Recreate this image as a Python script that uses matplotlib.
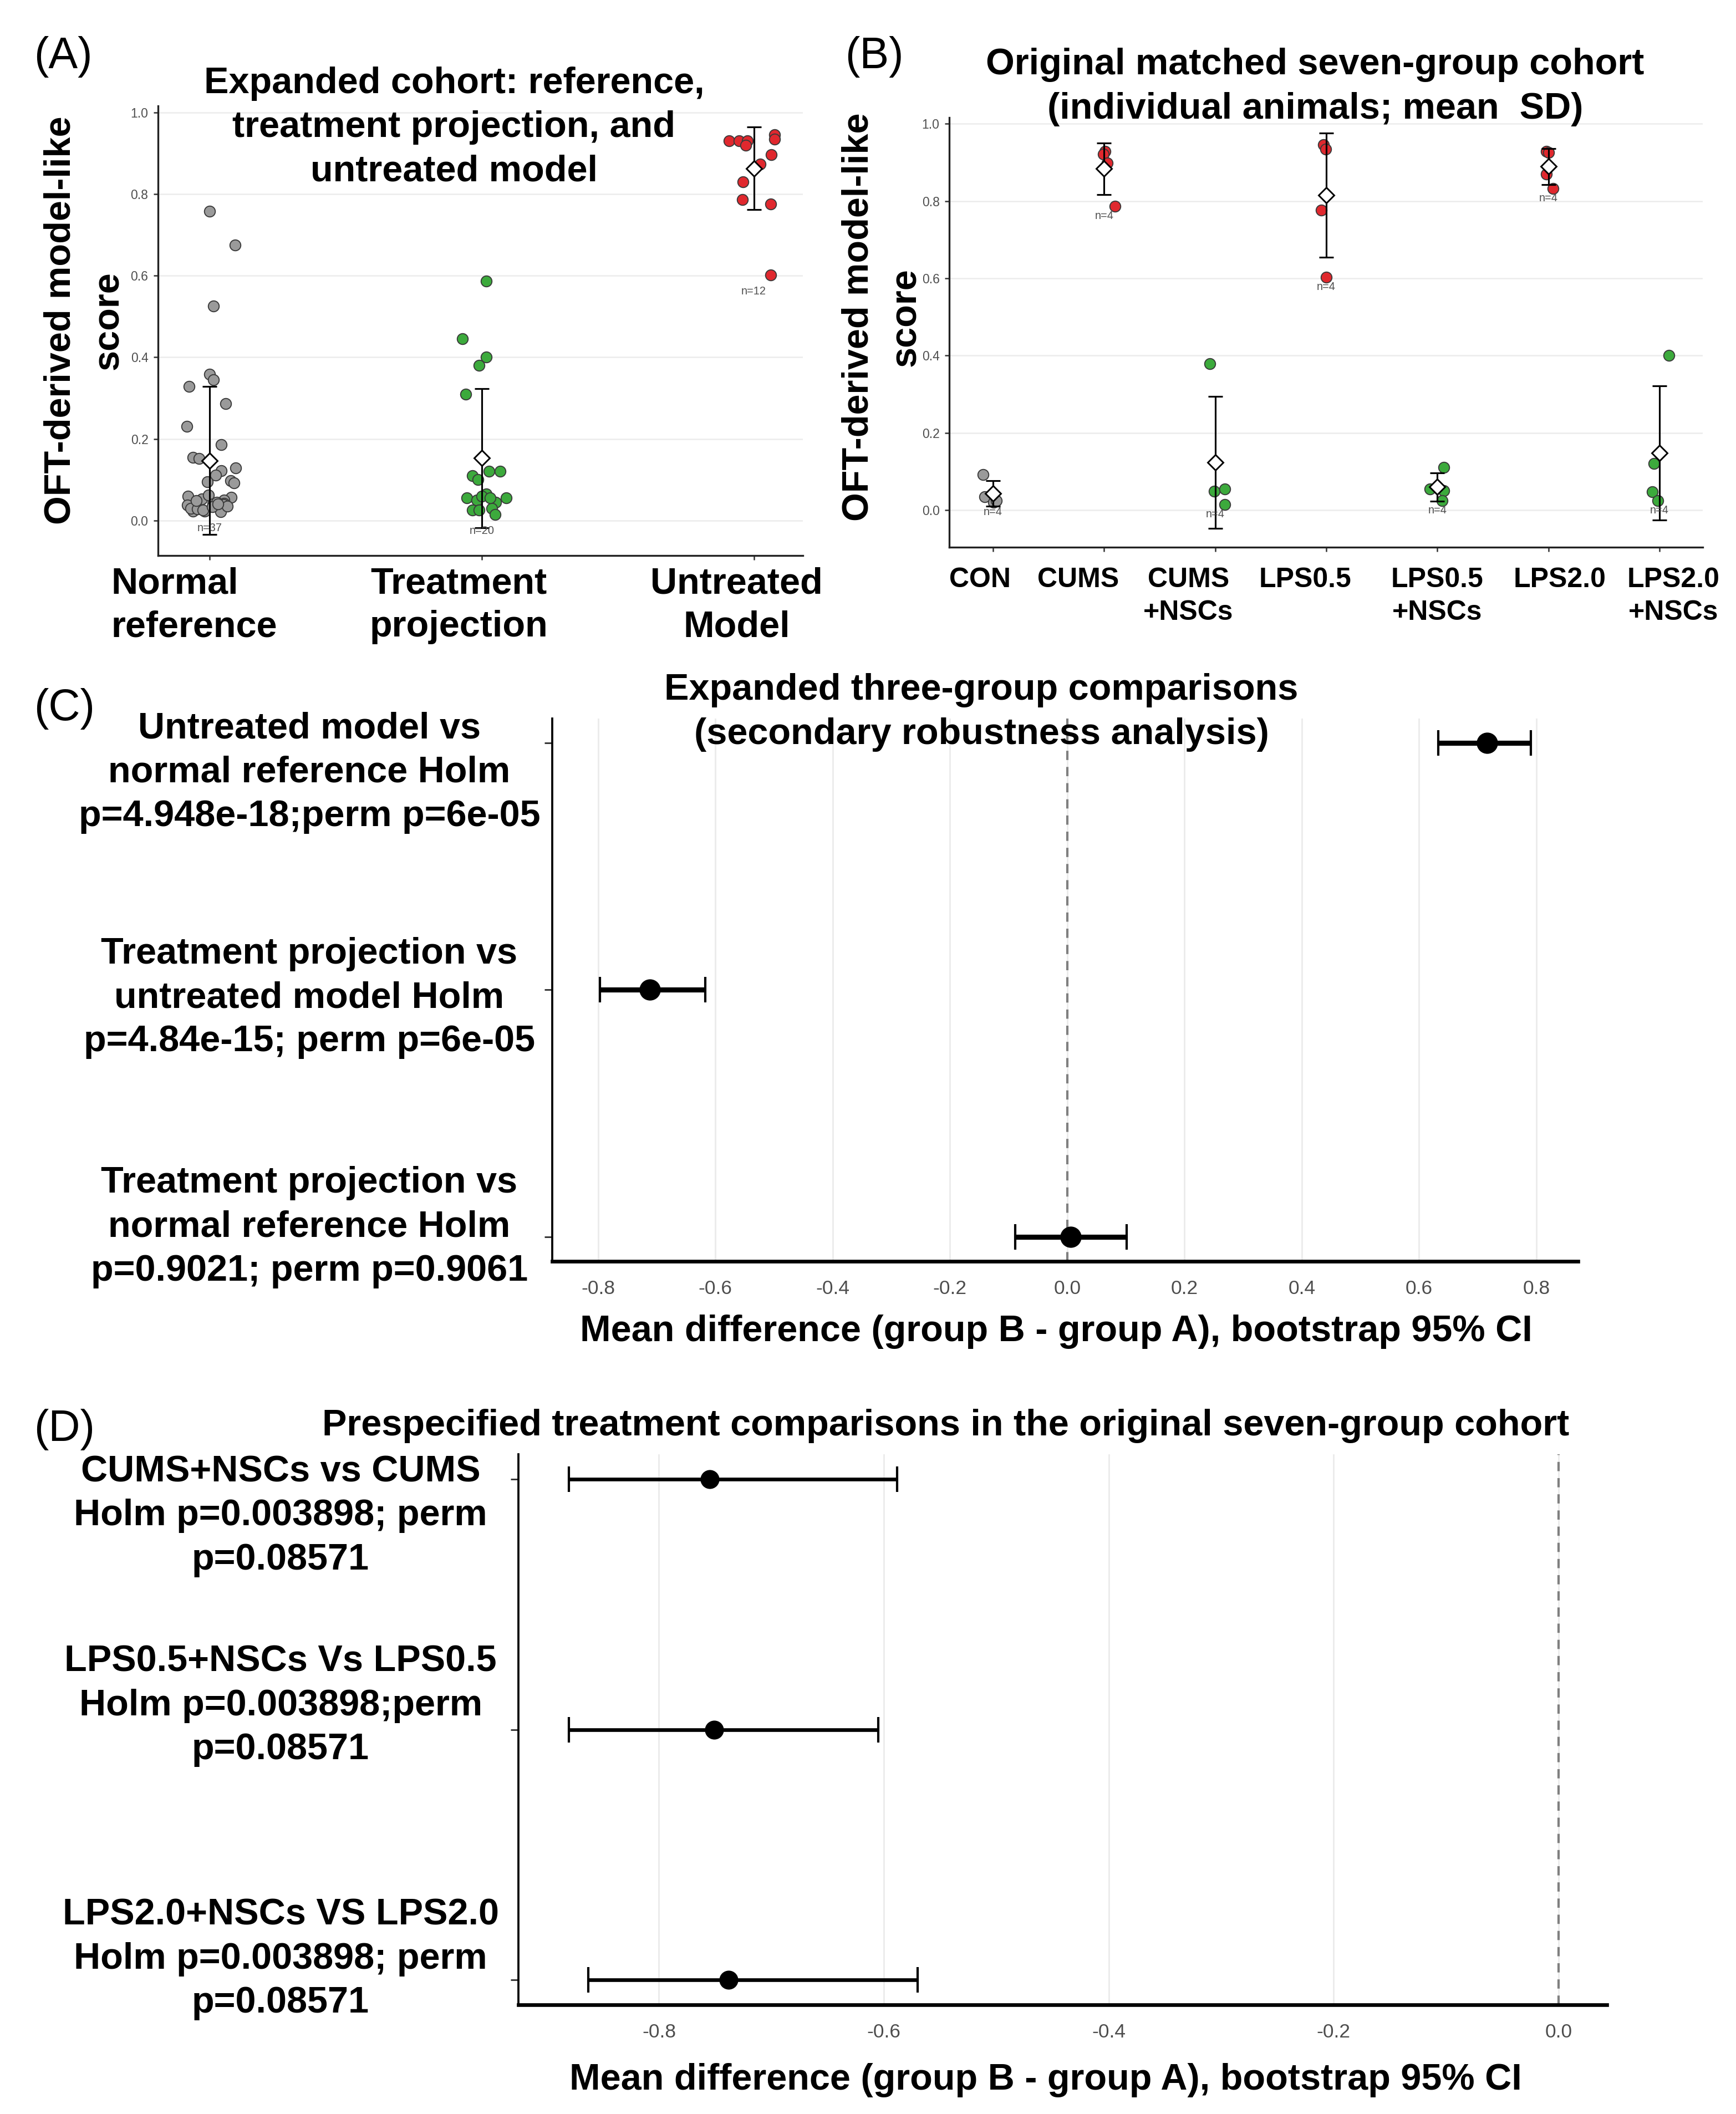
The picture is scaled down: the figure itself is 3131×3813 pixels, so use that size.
import numpy as np
import matplotlib
matplotlib.use("Agg")
import matplotlib.pyplot as plt

plt.rcParams['font.family'] = ['Liberation Sans', 'DejaVu Sans']

# ---- panel A : expanded cohort (individual scores + jitter offsets)
a_groups = ["Normal\nreference", "Treatment\nprojection", "Untreated\nModel"]
normal_scores = [0.758, 0.675, 0.526, 0.359, 0.345, 0.329, 0.286, 0.231, 0.186, 0.154,
                 0.152, 0.129, 0.122, 0.111, 0.095, 0.098, 0.092, 0.059, 0.052, 0.062,
                 0.057, 0.050, 0.042, 0.040, 0.037, 0.039, 0.023, 0.023, 0.021, 0.030,
                 0.028, 0.045, 0.035, 0.025, 0.033, 0.048, 0.041]
normal_jitter = [0.0, 0.093, 0.014, 0.0, 0.014, -0.076, 0.058, -0.084, 0.042, -0.061,
                 -0.04, 0.096, 0.042, 0.022, -0.009, 0.077, 0.09, -0.08, -0.03, -0.005,
                 0.08, 0.053, 0.053, 0.012, -0.082, 0.05, -0.062, -0.018, 0.04, -0.07,
                 -0.045, 0.025, 0.065, -0.025, 0.01, -0.05, 0.03]
treat_scores = [0.587, 0.445, 0.400, 0.380, 0.310, 0.120, 0.120, 0.110, 0.100, 0.065,
                0.055, 0.055, 0.050, 0.060, 0.045, 0.025, 0.025, 0.030, 0.015, 0.055]
treat_jitter = [0.016, -0.071, 0.016, -0.01, -0.06, 0.026, 0.067, -0.034, -0.014, 0.016,
                -0.055, 0.09, -0.018, 0.0, 0.052, -0.034, -0.01, 0.036, 0.05, 0.03]
untreated_scores = [0.930, 0.930, 0.930, 0.920, 0.945, 0.935, 0.897, 0.873, 0.830,
                    0.787, 0.776, 0.602]
untreated_jitter = [-0.092, -0.055, -0.024, -0.03, 0.077, 0.077, 0.063, 0.024, -0.04,
                    -0.042, 0.061, 0.061]

# ---- panel B : original seven-group cohort
b_groups = ["CON", "CUMS", "CUMS\n+NSCs", "LPS0.5", "LPS0.5\n+NSCs", "LPS2.0", "LPS2.0\n+NSCs"]
con = [0.092, 0.035, 0.020, 0.025]
cums = [0.929, 0.922, 0.898, 0.786]
cums_nsc = [0.379, 0.049, 0.054, 0.014]
lps05 = [0.946, 0.934, 0.776, 0.603]
lps05_nsc = [0.111, 0.054, 0.050, 0.024]
lps20 = [0.929, 0.926, 0.870, 0.832]
lps20_nsc = [0.400, 0.121, 0.047, 0.024]
con_j = [-0.088, -0.073, 0.005, 0.03]
cums_j = [0.01, -0.005, 0.03, 0.1]
cums_nsc_j = [-0.047, -0.01, 0.088, 0.088]
lps05_j = [-0.026, -0.005, -0.042, 0.0]
lps05_nsc_j = [0.057, -0.068, 0.057, 0.042]
lps20_j = [-0.02, 0.0, -0.02, 0.044]
lps20_nsc_j = [0.083, -0.047, -0.062, -0.016]

# ---- panel C : expanded three-group comparisons (top row first)
c_labels = ["Untreated model vs\nnormal reference Holm\np=4.948e-18;perm p=6e-05",
            "Treatment projection vs\nuntreated model Holm\np=4.84e-15; perm p=6e-05",
            "Treatment projection vs\nnormal reference Holm\np=0.9021; perm p=0.9061"]
c_diff = [0.716, -0.712, 0.006]
c_lo = [0.633, -0.797, -0.089]
c_hi = [0.791, -0.617, 0.101]

# ---- panel D : prespecified treatment comparisons (top row first)
d_labels = ["CUMS+NSCs vs CUMS\nHolm p=0.003898; perm\np=0.08571",
            "LPS0.5+NSCs Vs LPS0.5\nHolm p=0.003898;perm\np=0.08571",
            "LPS2.0+NSCs VS LPS2.0\nHolm p=0.003898; perm\np=0.08571"]
d_diff = [-0.755, -0.751, -0.738]
d_lo = [-0.880, -0.880, -0.863]
d_hi = [-0.588, -0.605, -0.570]

GRAY, RED, GREEN = "#9a9a9a", "#e0282e", "#3caa3c"
TICKGRAY = "#4d4d4d"
XLAB = "Mean difference (group B - group A), bootstrap 95% CI"

W, H, DPI = 3131, 3813, 300
fig = plt.figure(figsize=(W / DPI, H / DPI), dpi=DPI)
fig.patch.set_facecolor("white")


def box(l, t, r, b):
    return [l / W, 1 - b / H, (r - l) / W, (b - t) / H]


def strip_panel(ax, groups, jitters, colors, labels, label_dx, label_top, lab_size,
                lab_ls, xlim, n_off, label_align=None):
    if label_align is None:
        label_align = ["center"] * len(groups)
    for i, (vals, jit, col) in enumerate(zip(groups, jitters, colors)):
        vals = np.array(vals)
        ax.scatter(i + np.array(jit), vals, s=22, c=col, edgecolors="#3a3a3a",
                   linewidths=0.45, zorder=3)
        m, sd = vals.mean(), vals.std(ddof=1)
        ax.errorbar(i, m, yerr=sd, fmt="none", ecolor="black", elinewidth=0.75,
                    capsize=3.2, capthick=0.75, zorder=4)
        ax.plot(i, m, marker="D", ms=4.6, mfc="white", mec="black", mew=0.7, zorder=5)
        ax.text(i, vals.min() - n_off, f"n={len(vals)}", fontsize=4.8, color=TICKGRAY,
                ha="center", va="center", zorder=6)
        ax.text(i + label_dx[i], label_top, labels[i], transform=ax.get_xaxis_transform(),
                ha="center", va="top", fontsize=lab_size, fontweight="bold",
                linespacing=lab_ls, multialignment=label_align[i])
    ax.set_xlim(*xlim)
    ax.set_ylim(-0.09, 1.016)
    ax.set_xticks(range(len(groups)))
    ax.set_xticklabels([])
    yt = np.arange(0, 1.01, 0.2)
    ax.set_yticks(yt)
    ax.set_yticklabels([f"{v:.1f}" for v in yt], fontsize=5.5, color=TICKGRAY)
    ax.tick_params(axis="both", length=2.0, width=0.6, color="#333333")
    ax.tick_params(axis="y", pad=2.2)
    ax.grid(axis="y", color="#ececec", lw=0.6)
    ax.set_axisbelow(True)
    for s in ["top", "right"]:
        ax.spines[s].set_visible(False)
    for s in ["left", "bottom"]:
        ax.spines[s].set_linewidth(0.8)
        ax.spines[s].set_color("#222222")


# ----- A
ax_a = fig.add_axes(box(285, 191, 1448, 1002))
strip_panel(ax_a, [normal_scores, treat_scores, untreated_scores],
            [normal_jitter, treat_jitter, untreated_jitter], [GRAY, GREEN, RED],
            a_groups, [-0.057, -0.084, -0.063], -0.025, 16, 1.33, (-0.19, 2.18), 0.04,
            label_align=["left", "center", "center"])
ax_a.set_ylim(-0.086, 1.016)

# ----- B
ax_b = fig.add_axes(box(1712, 212, 3071, 987))
strip_panel(ax_b, [con, cums, cums_nsc, lps05, lps05_nsc, lps20, lps20_nsc],
            [con_j, cums_j, cums_nsc_j, lps05_j, lps05_nsc_j, lps20_j, lps20_nsc_j],
            [GRAY, RED, GREEN, RED, GREEN, RED, GREEN],
            b_groups, [-0.115, -0.235, -0.24, -0.19, 0.0, 0.1, 0.125], -0.046, 12, 1.38,
            (-0.394, 6.39), 0.025)
ax_b.set_ylim(-0.096, 1.016)

ylab = "OFT-derived model-like\nscore"
fig.text(153 / W, 1 - 578 / H, ylab, rotation=90, ha="center", va="center",
         fontsize=16, fontweight="bold", linespacing=1.5, multialignment="center")
fig.text(1591 / W, 1 - 572 / H, ylab, rotation=90, ha="center", va="center",
         fontsize=16, fontweight="bold", linespacing=1.5, multialignment="center")

fig.text(819 / W, 1 - 230 / H, "Expanded cohort: reference,\ntreatment projection, and\nuntreated model",
         ha="center", va="center", fontsize=16, fontweight="bold", linespacing=1.36)
fig.text(2372 / W, 1 - 157 / H, "Original matched seven-group cohort\n(individual animals; mean  SD)",
         ha="center", va="center", fontsize=16, fontweight="bold", linespacing=1.36)


def forest_panel(ax, labels, diff, lo, hi, label_y, label_x, xlim, xticks,
                 elw, ms, capsize):
    rows = np.arange(len(diff))[::-1]
    diff, lo, hi = np.array(diff), np.array(lo), np.array(hi)
    ax.axvline(0, color="#808080", lw=1.0, ls=(0, (4, 3)), zorder=1)
    ax.errorbar(diff, rows, xerr=[diff - lo, hi - diff], fmt="none", ecolor="black",
                elinewidth=elw, capsize=capsize, capthick=1.0, zorder=3)
    ax.plot(diff, rows, "o", color="black", ms=ms, zorder=4)
    for lab, y in zip(labels, label_y):
        ax.text(label_x, y, lab, transform=ax.get_yaxis_transform(), ha="center",
                va="center", fontsize=16, fontweight="bold", linespacing=1.36,
                multialignment="center")
    ax.set_xlim(*xlim)
    ax.set_ylim(-0.1, 2.1)
    ax.set_yticks(rows)
    ax.set_yticklabels([])
    ax.set_xticks(xticks)
    ax.set_xticklabels([f"{round(v, 1) + 0.0:.1f}".replace("-0.0", "0.0") for v in xticks],
                       fontsize=8.5, color=TICKGRAY)
    ax.tick_params(axis="x", length=0, pad=8)
    ax.tick_params(axis="y", length=3.4, width=0.7, color="#333333")
    ax.grid(axis="x", color="#ececec", lw=0.7)
    ax.set_axisbelow(True)
    for s in ["top", "right"]:
        ax.spines[s].set_visible(False)
    ax.spines["left"].set_linewidth(0.9)
    ax.spines["bottom"].set_linewidth(1.6)


# ----- C
ax_c = fig.add_axes(box(996, 1296, 2846, 2275))
forest_panel(ax_c, c_labels, c_diff, c_lo, c_hi, [1.88, 0.967, 0.038], -0.2368,
             (-0.878, 0.871), np.arange(-0.8, 0.81, 0.2), 2.2, 8.2, 5.6)
fig.text(1770 / W, 1 - 1285 / H, "Expanded three-group comparisons\n(secondary robustness analysis)",
         ha="center", va="center", fontsize=16, fontweight="bold", linespacing=1.36)
fig.text(1905 / W, 1 - 2402 / H, XLAB, ha="center", va="center", fontsize=16,
         fontweight="bold")

# ----- D
ax_d = fig.add_axes(box(935, 2623, 2898, 3616))
forest_panel(ax_d, d_labels, d_diff, d_lo, d_hi, [1.853, 1.094, 0.082], -0.2185,
             (-0.925, 0.043), np.arange(-0.8, 0.01, 0.2), 1.6, 7.2, 5.6)
fig.text(1706 / W, 1 - 2572 / H, "Prespecified treatment comparisons in the original seven-group cohort",
         ha="center", va="center", fontsize=16, fontweight="bold")
fig.text(1886 / W, 1 - 3752 / H, XLAB, ha="center", va="center", fontsize=16,
         fontweight="bold")

# panel letters
for letter, (x, y) in zip("ABCD", [(61, 103), (1524, 103), (61, 1279), (61, 2578)]):
    fig.text(x / W, 1 - y / H, f"({letter})", ha="left", va="center", fontsize=19)

fig.savefig("out.png", dpi=DPI, facecolor="white")
